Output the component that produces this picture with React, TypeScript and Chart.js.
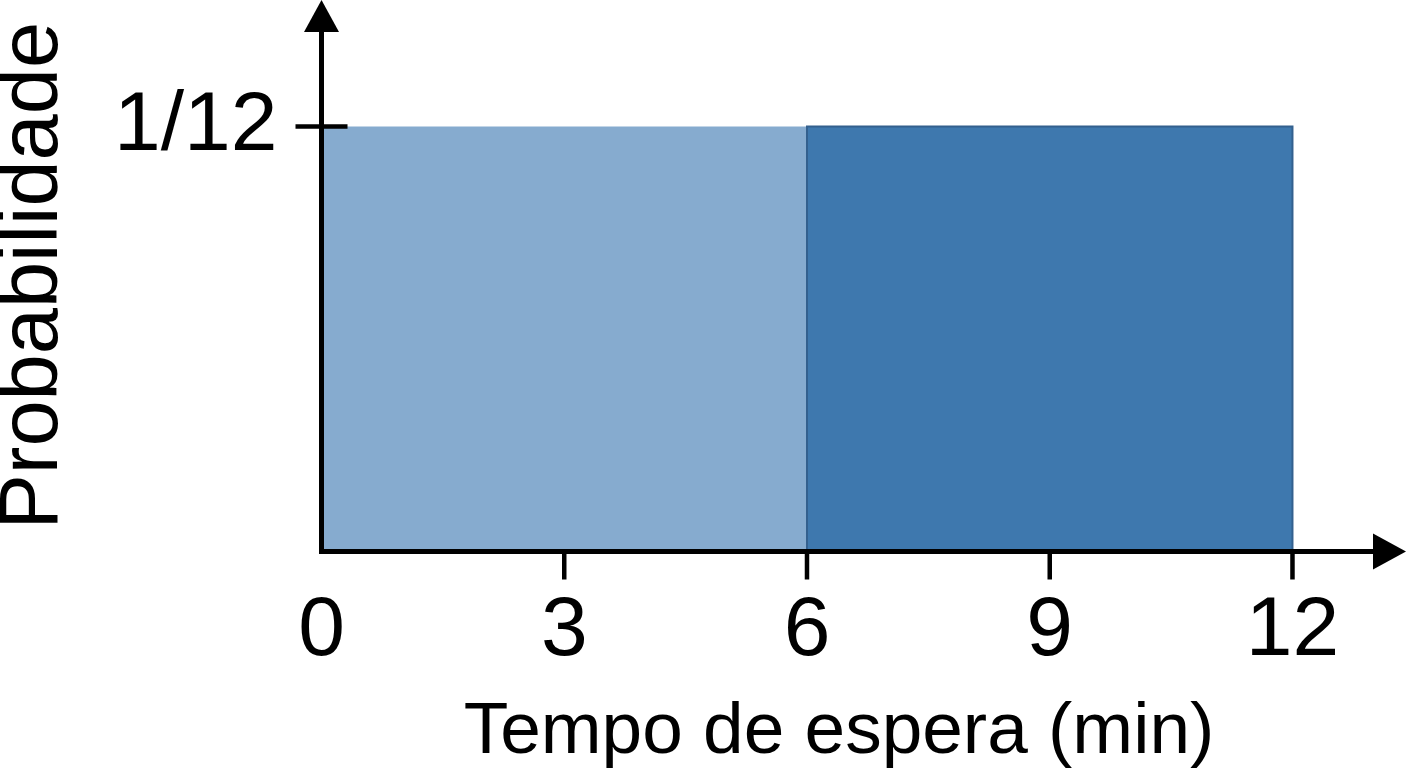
import React, { useEffect, useRef } from "react";
import { Chart, registerables } from "chart.js";

Chart.register(...registerables);

// ---- data ----
const binEdges = [0, 6, 12];
const probability = [1 / 12, 1 / 12];
const binColors = ["#86abcf", "#3e78ae"];
const binBorders = ["transparent", "#33608e"];
const xTickValues = [0, 3, 6, 9, 12];
const xTickLabels = ["0", "3", "6", "9", "12"];
const yTickValues = [1 / 12];
const yTickLabels = ["1/12"];
const xTitle = "Tempo de espera (min)";
const yTitle = "Probabilidade";

const FONT = "'Liberation Sans', Arial, Helvetica, sans-serif";

const axesPlugin = {
  id: "arrowAxes",
  afterDraw(chart: any) {
    const { ctx, chartArea, scales } = chart;
    const xs = scales.x;
    const ys = scales.y;
    const x0 = xs.getPixelForValue(0);
    const y0 = ys.getPixelForValue(0);
    ctx.save();
    ctx.strokeStyle = "#000";
    ctx.fillStyle = "#000";
    ctx.lineWidth = 5;
    ctx.lineCap = "butt";
    // x axis line
    ctx.beginPath();
    ctx.moveTo(x0 - 2.5, y0);
    ctx.lineTo(chartArea.right - 30, y0);
    ctx.stroke();
    // x arrow
    ctx.beginPath();
    ctx.moveTo(chartArea.right, y0);
    ctx.lineTo(chartArea.right - 33, y0 - 18);
    ctx.lineTo(chartArea.right - 33, y0 + 18);
    ctx.closePath();
    ctx.fill();
    // y axis line
    ctx.beginPath();
    ctx.moveTo(x0, y0 + 2.5);
    ctx.lineTo(x0, chartArea.top + 30);
    ctx.stroke();
    // y arrow
    ctx.beginPath();
    ctx.moveTo(x0, chartArea.top);
    ctx.lineTo(x0 - 17.5, chartArea.top + 32);
    ctx.lineTo(x0 + 17.5, chartArea.top + 32);
    ctx.closePath();
    ctx.fill();
    // x tick marks
    ctx.lineWidth = 4.5;
    xTickValues.forEach((v) => {
      if (v === 0) return;
      const px = xs.getPixelForValue(v);
      ctx.beginPath();
      ctx.moveTo(px, y0);
      ctx.lineTo(px, y0 + 28);
      ctx.stroke();
    });
    // y tick marks
    yTickValues.forEach((v) => {
      const py = ys.getPixelForValue(v);
      ctx.beginPath();
      ctx.moveTo(x0 - 26, py);
      ctx.lineTo(x0 + 26, py);
      ctx.stroke();
    });
    // x title
    ctx.font = `73px ${FONT}`;
    ctx.textAlign = "center";
    ctx.textBaseline = "alphabetic";
    ctx.fillText(xTitle, 839, 753);
    ctx.restore();
  },
};

export default function App() {
  const ref = useRef<HTMLCanvasElement>(null);

  useEffect(() => {
    document.body.style.margin = "0";
    const datasets = probability
      .map((p, i) => ({
        data: [
          { x: binEdges[i], y: 0 },
          { x: binEdges[i], y: p },
          { x: binEdges[i + 1], y: p },
          { x: binEdges[i + 1], y: 0 },
        ],
        showLine: true,
        fill: "origin",
        backgroundColor: binColors[i],
        borderColor: binBorders[i],
        borderWidth: i === 0 ? 0 : 2,
        pointRadius: 0,
        tension: 0,
      }))
      .reverse();

    const chart = new Chart(ref.current as HTMLCanvasElement, {
      type: "scatter",
      data: { datasets: datasets as any },
      options: {
        animation: false,
        responsive: false,
        layout: { padding: { top: 0, right: 2, bottom: 0, left: 0 } },
        plugins: {
          legend: { display: false },
          tooltip: { enabled: false },
        },
        scales: {
          x: {
            type: "linear",
            min: 0,
            max: 13.403,
            grid: { display: false, drawTicks: false },
            border: { display: false },
            afterBuildTicks: (scale: any) => {
              scale.ticks = xTickValues.map((v) => ({ value: v }));
            },
            afterFit: (scale: any) => {
              scale.height = 216.5;
              scale.paddingLeft = 0;
              scale.paddingRight = 0;
              scale.paddingTop = 0;
              scale.paddingBottom = 0;
            },
            ticks: {
              padding: 30,
              color: "#000",
              maxRotation: 0,
              autoSkip: false,
              font: { family: FONT, size: 84 },
              callback: (v: any) => {
                const i = xTickValues.indexOf(Number(v));
                return i >= 0 ? xTickLabels[i] : "";
              },
            },
          },
          y: {
            type: "linear",
            min: 0,
            max: 0.10814,
            grid: { display: false, drawTicks: false },
            border: { display: false },
            afterBuildTicks: (scale: any) => {
              scale.ticks = yTickValues.map((v) => ({ value: v }));
            },
            afterFit: (scale: any) => {
              scale.width = 321.5;
              scale.paddingLeft = 0;
              scale.paddingRight = 0;
              scale.paddingTop = 0;
              scale.paddingBottom = 0;
            },
            ticks: {
              padding: 44,
              color: "#000",
              autoSkip: false,
              font: { family: FONT, size: 84 },
              callback: (v: any) => {
                const i = yTickValues.findIndex((t) => Math.abs(t - Number(v)) < 1e-9);
                return i >= 0 ? yTickLabels[i] : "";
              },
            },
            title: {
              display: true,
              text: yTitle,
              color: "#000",
              font: { family: FONT, size: 83, lineHeight: 0.82 },
              padding: 0,
            },
          },
        },
      },
      plugins: [axesPlugin],
    } as any);
    return () => chart.destroy();
  }, []);

  return (
    <div style={{ position: "absolute", left: 0, top: 0, width: 1408, height: 768, background: "#fff" }}>
      <canvas ref={ref} width={1408} height={768} style={{ display: "block" }} />
    </div>
  );
}
